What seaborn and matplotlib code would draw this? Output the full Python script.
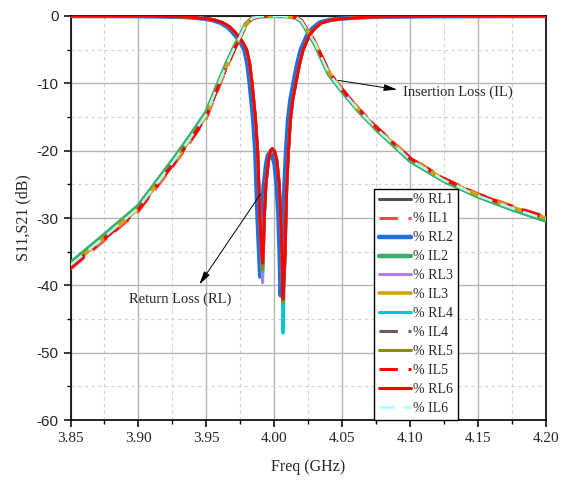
import matplotlib
matplotlib.use("Agg")
import matplotlib.pyplot as plt
import seaborn as sns
import pandas as pd

# ---------------- data ----------------
freq_il = [3.85, 3.875, 3.90, 3.925, 3.9375, 3.95, 3.9575, 3.965, 3.9706, 3.9743,
           3.979, 3.984, 3.99, 4.00, 4.01, 4.016, 4.02, 4.0256, 4.03, 4.04,
           4.05, 4.0625, 4.075, 4.10, 4.125, 4.15, 4.175, 4.20]

il1 = [-37.6, -33.3, -29.0, -22.4, -18.9, -15.2, -11.4, -7.7, -5.1, -3.6, -1.4, -0.35, -0.05, 0, -0.04,
       -0.2, -0.65, -2.4, -3.8, -8.1, -10.8, -13.8, -16.4, -21.0, -24.1, -26.4, -28.2, -29.8]
il2 = [-36.7, -32.5, -28.2, -21.5, -18.0, -14.3, -10.6, -7.0, -4.6, -3.2, -1.2, -0.3, -0.05, 0, -0.05,
       -0.25, -0.8, -2.7, -4.2, -8.6, -11.2, -14.2, -16.8, -21.5, -24.5, -26.8, -28.7, -30.4]
il3 = [-37.2, -32.9, -28.6, -22.0, -18.5, -14.8, -11.0, -7.4, -4.9, -3.4, -1.3, -0.32, -0.05, 0, -0.04,
       -0.2, -0.7, -2.5, -3.9, -8.3, -11.0, -14.0, -16.6, -21.2, -24.3, -26.6, -28.4, -30.0]
il4 = [-37.2, -32.9, -28.6, -22.0, -18.5, -14.8, -11.0, -7.4, -4.9, -3.4, -1.3, -0.32, -0.05, 0, -0.04,
       -0.2, -0.7, -2.5, -3.9, -8.3, -11.0, -14.0, -16.6, -21.2, -24.3, -26.6, -28.4, -30.0]
il5 = [-37.4, -33.1, -28.8, -22.2, -18.7, -15.0, -11.2, -7.6, -5.0, -3.5, -1.35, -0.33, -0.05, 0, -0.04,
       -0.2, -0.7, -2.45, -3.85, -8.2, -10.9, -13.9, -16.5, -21.1, -24.2, -26.5, -28.3, -29.9]
il6 = [-37.0, -32.8, -28.5, -21.8, -18.3, -14.6, -10.8, -7.2, -4.75, -3.3, -1.25, -0.3, -0.05, 0, -0.05,
       -0.22, -0.75, -2.6, -4.05, -8.45, -11.1, -14.1, -16.7, -21.35, -24.4, -26.7, -28.55, -30.2]

freq_rl = [3.85, 3.90, 3.93, 3.94, 3.95, 3.956, 3.962, 3.967, 3.9705, 3.9743,
           3.977, 3.9796, 3.9818, 3.9836, 3.986, 3.9877, 3.9894, 3.9905, 3.9914, 3.9920,
           3.9926, 3.9938, 3.9957, 3.9970, 3.9985, 4.0002, 4.0019, 4.0036, 4.0048, 4.0056,
           4.0060, 4.0064, 4.0072, 4.0080, 4.0085, 4.0092, 4.0104, 4.0118, 4.0135, 4.0158,
           4.0185, 4.0212, 4.0260, 4.0300, 4.0350, 4.0420, 4.0500, 4.0650, 4.0800, 4.1200,
           4.2000]
freq_rl2 = [3.85, 3.8983, 3.9283, 3.9383, 3.9483, 3.9543, 3.9603, 3.9653, 3.9688, 3.9726,
            3.9753, 3.9779, 3.9801, 3.9819, 3.9843, 3.9860, 3.9877, 3.9888, 3.9897, 3.9903,
            3.9909, 3.9921, 3.9940, 3.9953, 3.9968, 3.9985, 4.0002, 4.0019, 4.0031, 4.0039,
            4.0043, 4.0047, 4.0055, 4.0063, 4.0068, 4.0075, 4.0087, 4.0101, 4.0118, 4.0141,
            4.0168, 4.0195, 4.0243, 4.0283, 4.0333, 4.0403, 4.0483, 4.0633, 4.0783, 4.1183,
            4.2000]

rl1 = [0, -0.02, -0.1, -0.2, -0.4, -0.6, -1.0, -1.6, -2.3, -3.2, -4.0, -5.0, -7.0, -10.0, -15.0, -20.0,
       -30.0, -34.6, -37.0, -34.2, -30.0, -25.0, -21.5, -20.1, -19.7, -20.1, -21.5, -25.0, -30.0, -35.0,
       -38.5, -42.0, -38.5, -35.0, -30.0, -25.0, -20.0, -15.5, -12.5, -10.0, -7.2, -5.0, -2.8, -1.8, -1.0,
       -0.6, -0.4, -0.2, -0.1, -0.03, 0]
rl2 = [0, -0.02, -0.1, -0.2, -0.4, -0.6, -1.0, -1.6, -2.3, -3.2, -4.0, -5.0, -7.0, -10.0, -15.0, -20.0,
       -30.0, -35.0, -38.7, -35.0, -30.5, -25.5, -22.0, -20.7, -20.3, -20.7, -22.0, -25.5, -30.0, -35.0,
       -38.3, -41.5, -38.3, -35.0, -30.0, -25.0, -20.0, -15.5, -12.5, -10.0, -7.2, -5.0, -2.8, -1.8, -1.0,
       -0.6, -0.4, -0.2, -0.1, -0.03, 0]
rl3 = [0, -0.02, -0.1, -0.2, -0.4, -0.6, -1.0, -1.6, -2.3, -3.2, -4.0, -5.0, -7.0, -10.0, -15.0, -20.0,
       -30.0, -35.5, -39.6, -35.0, -30.0, -25.0, -21.5, -20.1, -19.7, -20.1, -21.5, -25.0, -30.0, -35.0,
       -39.0, -43.0, -39.0, -35.0, -30.0, -25.0, -20.0, -15.5, -12.5, -10.0, -7.2, -5.0, -2.8, -1.8, -1.0,
       -0.6, -0.4, -0.2, -0.1, -0.03, 0]
rl4 = [0, -0.02, -0.1, -0.2, -0.4, -0.6, -1.0, -1.6, -2.3, -3.2, -4.0, -5.0, -7.0, -10.0, -15.0, -20.0,
       -30.0, -34.8, -38.0, -34.5, -30.0, -25.0, -21.5, -20.1, -19.7, -20.1, -21.5, -25.0, -30.0, -35.0,
       -40.5, -47.1, -40.5, -35.0, -30.0, -25.0, -20.0, -15.5, -12.5, -10.0, -7.2, -5.0, -2.8, -1.8, -1.0,
       -0.6, -0.4, -0.2, -0.1, -0.03, 0]
rl5 = [0, -0.02, -0.1, -0.2, -0.4, -0.6, -1.0, -1.6, -2.3, -3.2, -4.0, -5.0, -7.0, -10.0, -15.0, -20.0,
       -30.0, -35.0, -37.7, -34.6, -30.0, -25.0, -21.5, -20.1, -19.7, -20.1, -21.5, -25.0, -30.0, -35.0,
       -38.8, -42.5, -38.8, -35.0, -30.0, -25.0, -20.0, -15.5, -12.5, -10.0, -7.2, -5.0, -2.8, -1.8, -1.0,
       -0.6, -0.4, -0.2, -0.1, -0.03, 0]
rl6 = [0, -0.02, -0.1, -0.2, -0.4, -0.6, -1.0, -1.6, -2.3, -3.2, -4.0, -5.0, -7.0, -10.0, -15.0, -20.0,
       -30.0, -34.5, -36.7, -34.0, -30.0, -25.0, -21.5, -20.1, -19.7, -20.1, -21.5, -25.0, -30.0, -35.0,
       -38.5, -42.0, -38.5, -35.0, -30.0, -25.0, -20.0, -15.5, -12.5, -10.0, -7.2, -5.0, -2.8, -1.8, -1.0,
       -0.6, -0.4, -0.2, -0.1, -0.03, 0]

labels = ["% RL1", "% IL1", "% RL2", "% IL2", "% RL3", "% IL3",
          "% RL4", "% IL4", "% RL5", "% IL5", "% RL6", "% IL6"]
x_ticks = [3.85, 3.90, 3.95, 4.00, 4.05, 4.10, 4.15, 4.20]
y_ticks = [-60, -50, -40, -30, -20, -10, 0]

# ---------------- style ----------------
sns.set_style("ticks")
plt.rcParams["font.family"] = ["Liberation Serif", "DejaVu Serif"]

series = [
    (freq_rl, rl1, "#505050", "-", 2.2),
    (freq_il, il1, "#ff4545", (0, (6, 3.5)), 2.2),
    (freq_rl2, rl2, "#1f6fe0", "-", 3.2),
    (freq_il, il2, "#3aae66", "-", 3.2),
    (freq_rl, rl3, "#b07ee8", "-", 2.2),
    (freq_il, il3, "#d2a012", "-", 2.6),
    (freq_rl, rl4, "#00c8d2", "-", 2.2),
    (freq_il, il4, "#7a5555", (0, (6, 3.5, 1.5, 3.5)), 2.2),
    (freq_rl, rl5, "#8c8c00", "-", 2.2),
    (freq_il, il5, "#ff0000", (0, (6, 3.5, 1.5, 3.5)), 2.2),
    (freq_rl, rl6, "#ff0000", "-", 2.2),
    (freq_il, il6, "#a8ffff", (0, (6, 3.5)), 1.8),
]

fig = plt.figure(figsize=(5.71, 4.83), dpi=100)
ax = fig.add_axes([0.1235, 0.1304, 0.8327, 0.8365])

for (fx, fy, col, ls, lw), lab in zip(series, labels):
    df = pd.DataFrame({"f": fx, "v": fy})
    sns.lineplot(data=df, x="f", y="v", ax=ax, color=col, linestyle=ls, linewidth=lw,
                 label=lab, estimator=None, sort=False, zorder=3)

ax.set_xlim(3.85, 4.20)
ax.set_ylim(-60, 0)
ax.set_xticks(x_ticks)
ax.set_xticklabels([f"{t:.2f}" for t in x_ticks])
ax.set_xticks([3.875, 3.925, 3.975, 4.025, 4.075, 4.125, 4.175], minor=True)
ax.set_yticks(y_ticks)
ax.set_yticklabels([f"{t}" for t in y_ticks])
ax.set_yticks([-55, -45, -35, -25, -15, -5], minor=True)
for lab in ax.get_xticklabels():
    lab.set_fontfamily(["Liberation Serif"])
    lab.set_fontsize(11)
for lab in ax.get_yticklabels():
    lab.set_fontfamily(["Liberation Sans"])
    lab.set_fontsize(11)

ax.grid(True, which="major", color="#b4b4b4", lw=1.0, ls="-", zorder=0)
ax.grid(True, which="minor", color="#d2d2d2", lw=0.8, ls=(0, (3, 3)), zorder=0)
ax.set_axisbelow(True)

ax.tick_params(axis="both", which="major", direction="out", length=5, width=1.1, color="black")
ax.tick_params(axis="both", which="minor", direction="out", length=3, width=1.0, color="black")
for s in ax.spines.values():
    s.set_color("black")
    s.set_linewidth(1.2)

ax.set_xlabel("Freq (GHz)", fontsize=11.5, labelpad=10)
ax.set_ylabel("S11,S21 (dB)", fontsize=11.5, labelpad=4)

# annotations
ax.text(4.0945, -11.3, "Insertion Loss (IL)", fontsize=10.5, ha="left", va="center")
ax.annotate("", xy=(4.0925, -11.0), xytext=(4.0452, -9.5),
            arrowprops=dict(arrowstyle="-|>,head_length=0.8,head_width=0.2", color="black", lw=0.7))
ax.text(3.8929, -42.0, "Return Loss (RL)", fontsize=10.5, ha="left", va="center")
ax.annotate("", xy=(3.9437, -40.2), xytext=(3.991, -26.1),
            arrowprops=dict(arrowstyle="-|>,head_length=0.8,head_width=0.2", color="black", lw=0.7))

leg = ax.legend(loc="lower left", bbox_to_anchor=(0.638, 0.0), borderaxespad=0,
                fontsize=10, handlelength=2.3, labelspacing=0.43, handletextpad=0.2,
                borderpad=0.35, frameon=True, fancybox=False, edgecolor="black",
                framealpha=1.0)
leg.get_frame().set_linewidth(1.0)
leg.set_zorder(5)

fig.savefig("out.png", dpi=100)
